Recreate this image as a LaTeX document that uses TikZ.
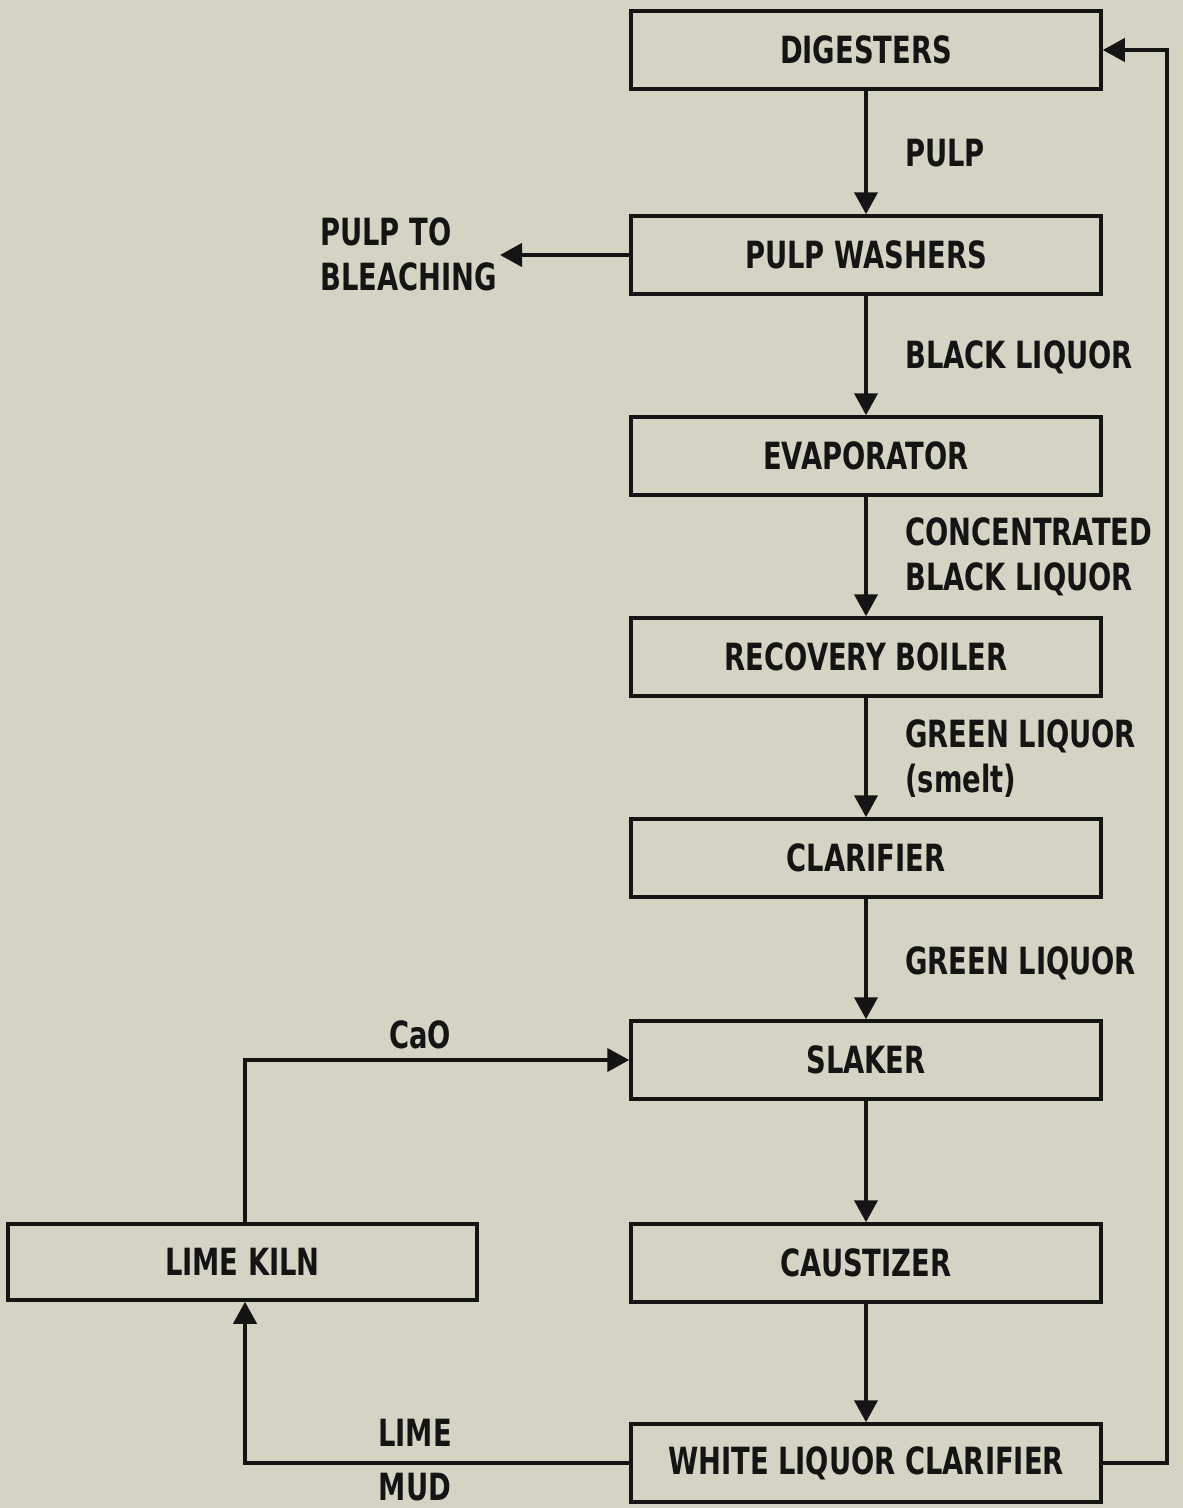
\documentclass[tikz,border=0pt]{standalone}
\usepackage{fontspec}
\newfontfamily\lblfont[FakeStretch=0.73]{DejaVu Sans Bold}
\usetikzlibrary{arrows.meta}
\definecolor{paper}{RGB}{213,211,196}
\definecolor{ink}{RGB}{20,20,20}
\begin{document}
\begin{tikzpicture}[x=1pt,y=-1pt,
  every node/.style={font=\lblfont\fontsize{37.5}{45}\selectfont, text=ink},
  procbox/.style={draw=ink, line width=3.5pt, fill=paper, minimum width=470pt, minimum height=78pt, inner sep=0pt},
  flowlbl/.style={anchor=west, inner sep=0pt, align=left},
  flow/.style={draw=ink, line width=4pt, -{Triangle[length=22pt,width=23pt]}}
]
\fill[paper] (0,0) rectangle (1183,1508);
\useasboundingbox (0,0) rectangle (1183,1508);

% process boxes
\node[procbox] (dig) at (866,50) {DIGESTERS};
\node[procbox] (pw) at (866,255) {PULP WASHERS};
\node[procbox] (ev) at (866,456) {EVAPORATOR};
\node[procbox] (rb) at (866,657) {RECOVERY BOILER};
\node[procbox] (cl) at (866,858) {CLARIFIER};
\node[procbox] (sl) at (866,1060) {SLAKER};
\node[procbox] (ca) at (866,1263) {CAUSTIZER};
\node[procbox] (wlc) at (866,1463) {WHITE LIQUOR CLARIFIER};
\node[procbox, minimum width=469pt, minimum height=76pt] (kiln) at (242.5,1262) {LIME KILN};

% outside text
\node[flowlbl] (bleach) at (320,254) {PULP TO\\BLEACHING};
\coordinate (bleachtip) at (500,255);

% stream labels
\node[flowlbl] (lpulp) at (905,153) {PULP};
\node[flowlbl] (lblack) at (905,357) {BLACK LIQUOR};
\node[flowlbl] (lconc) at (905,557) {CONCENTRATED\\BLACK LIQUOR};
\node[flowlbl] (lgreen1) at (905,759) {GREEN LIQUOR\\(smelt)};
\node[flowlbl] (lgreen2) at (905,963) {GREEN LIQUOR};
\node[inner sep=0pt] (lcao) at (420,1035) {CaO};
\node[inner sep=0pt] (llime) at (415,1433) {LIME};
\node[inner sep=0pt] (lmud) at (415,1487) {MUD};

% helper coordinates
\coordinate (kx) at (245,0);
\coordinate (rx) at (1167,0);

% main vertical flow
\draw[flow] (dig) -- (pw);
\draw[flow] (pw) -- (ev);
\draw[flow] (ev) -- (rb);
\draw[flow] (rb) -- (cl);
\draw[flow] (cl) -- (sl);
\draw[flow] (sl) -- (ca);
\draw[flow] (ca) -- (wlc);

% pulp to bleaching
\draw[flow] (pw.west) -- (bleachtip);

% CaO loop
\draw[flow] (kiln.north -| kx) |- (sl.west);

% lime mud
\draw[flow] (wlc.west) -| (kiln.south -| kx);

% white liquor back to digesters
\draw[flow] (wlc.east) -- (wlc.east -| rx) |- (dig.east);
\end{tikzpicture}
\end{document}
